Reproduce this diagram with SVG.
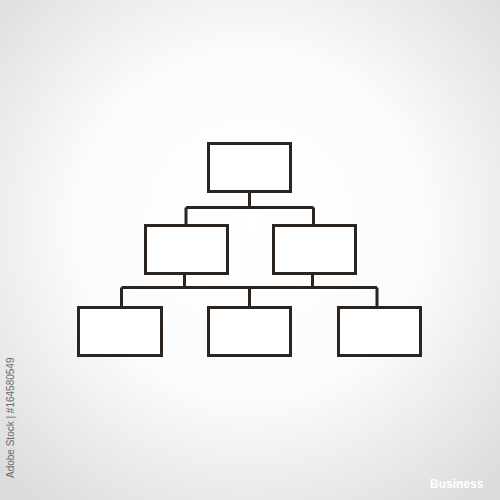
<svg xmlns="http://www.w3.org/2000/svg" width="500" height="500" viewBox="0 0 500 500">
<defs>
<radialGradient id="bg" cx="50%" cy="45%" r="70%">
<stop offset="0" stop-color="#ffffff"/>
<stop offset="0.5" stop-color="#fbfbfb"/>
<stop offset="1" stop-color="#dcdcdc"/>
</radialGradient>
<style>
.box{fill:#ffffff;stroke:#2b241f;stroke-width:3}
.line{fill:none;stroke:#2b241f;stroke-width:3}
</style>
</defs>
<rect width="500" height="500" fill="url(#bg)"/>
<g id="connectors">
<path class="line" d="M249.5 192V207.5M186 207.5H313.5M186 207.5V225M313.5 207.5V225"/>
<path class="line" d="M184.5 274V287.5M312.5 274V287.5M121.5 287.5H377M121.5 287.5V308M249.5 287.5V308M377 287.5V308"/>
</g>
<g id="top"><rect class="box" x="208.5" y="143.5" width="82" height="48"/></g>
<g id="mid-left"><rect class="box" x="145.5" y="225.5" width="82" height="48"/></g>
<g id="mid-right"><rect class="box" x="273.5" y="225.5" width="82" height="48"/></g>
<g id="bottom-left"><rect class="box" x="78.5" y="307.5" width="83" height="48"/></g>
<g id="bottom-mid"><rect class="box" x="208.5" y="307.5" width="82" height="48"/></g>
<g id="bottom-right"><rect class="box" x="338.5" y="307.5" width="82" height="48"/></g>
<text transform="translate(14 478) rotate(-90)" font-family="'Liberation Sans', Arial, sans-serif" font-size="10" fill="#6a6a6a">Adobe Stock | #164580549</text>
<text x="430" y="488" font-family="'Liberation Sans', Arial, sans-serif" font-size="12" font-weight="bold" fill="#ffffff">Business</text>
</svg>
